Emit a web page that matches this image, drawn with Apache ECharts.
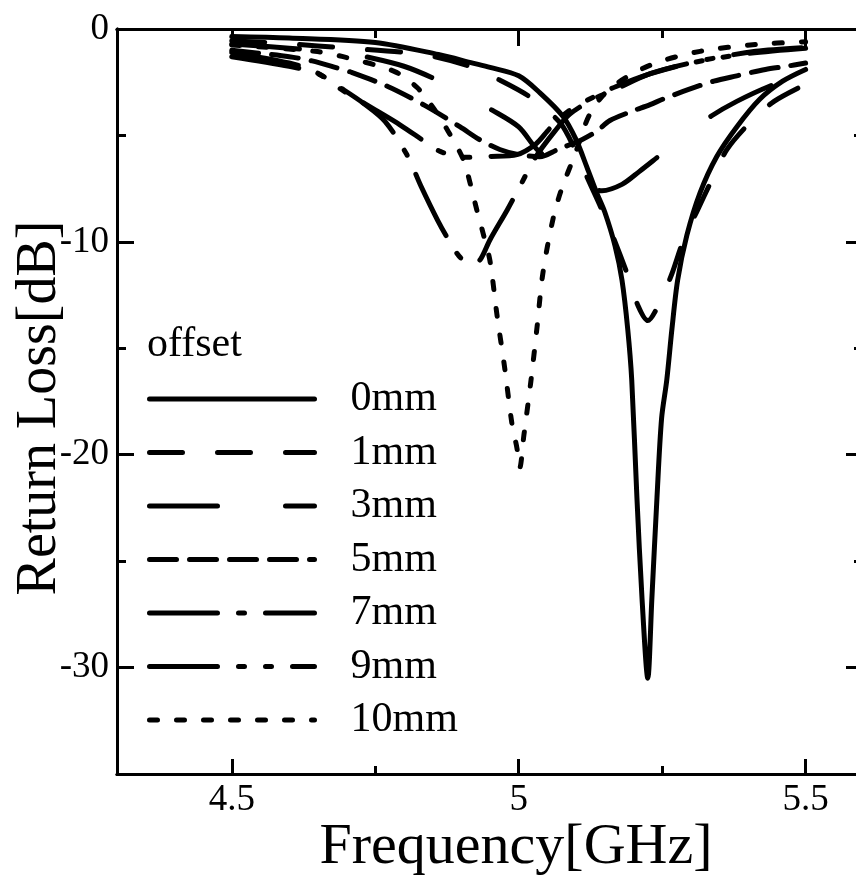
<!DOCTYPE html>
<html>
<head>
<meta charset="utf-8">
<script src="https://cdn.jsdelivr.net/npm/echarts@6/dist/echarts.min.js"></script>
<style>
html,body{margin:0;padding:0;background:#fff;}
#chart{width:856px;height:877px;}
</style>
</head>
<body>
<div id="chart"></div>
<script>
// ---- data: [frequency GHz, return loss dB] ----
const seriesNames = ['0mm', '1mm', '3mm', '5mm', '7mm', '9mm', '10mm'];

const rl0mm = [[4.5,-0.35],[4.6,-0.42],[4.75,-0.63],[4.86,-1.2],[4.92,-1.6],[4.95,-1.8],[5.0,-2.2],[5.037,-3.0],[5.077,-4.1],[5.1,-5.2],[5.119,-6.5],[5.136,-7.7],[5.15,-8.6],[5.168,-10.2],[5.18,-11.8],[5.19,-14.1],[5.197,-16.5],[5.206,-22.0],[5.215,-26.8],[5.225,-30.5],[5.232,-26.8],[5.241,-22.0],[5.249,-18.3],[5.258,-16.5],[5.267,-14.1],[5.277,-11.8],[5.293,-9.7],[5.316,-7.7],[5.345,-6.0],[5.38,-4.6],[5.42,-3.3],[5.46,-2.45],[5.5,-1.9]];

const rl1mm = [[4.5,-0.55],[4.6,-0.7],[4.7,-0.9],[4.8,-1.1],[4.854,-1.3],[4.915,-1.76],[4.967,-2.4],[5.02,-3.2],[5.072,-4.4],[5.098,-5.66],[5.121,-7.07],[5.145,-8.5],[5.168,-10.0],[5.189,-11.5],[5.208,-13.0],[5.225,-13.7],[5.243,-13.0],[5.267,-11.5],[5.286,-10.0],[5.31,-8.6],[5.337,-7.07],[5.363,-5.66],[5.403,-4.4],[5.445,-3.4],[5.5,-2.6]];

const rl3mm = [[4.5,-0.7],[4.6,-0.9],[4.7,-1.15],[4.74,-1.34],[4.8,-1.75],[4.85,-2.3],[4.9,-3.0],[4.953,-3.8],[5.0,-4.6],[5.032,-5.66],[5.08,-6.7],[5.11,-7.2],[5.145,-7.6],[5.18,-7.3],[5.21,-6.7],[5.243,-6.0],[5.29,-5.0],[5.335,-4.1],[5.38,-3.4],[5.436,-2.7],[5.5,-2.1]];

const rl5mm = [[4.5,-1.0],[4.6,-1.3],[4.64,-1.5],[4.68,-1.8],[4.709,-2.04],[4.772,-2.7],[4.837,-3.6],[4.898,-4.6],[4.932,-5.2],[4.967,-5.66],[5.0,-5.9],[5.037,-6.0],[5.068,-5.66],[5.11,-5.2],[5.136,-4.8],[5.159,-4.3],[5.194,-3.9],[5.229,-3.55],[5.251,-3.3],[5.295,-2.85],[5.34,-2.45],[5.38,-2.2],[5.43,-1.9],[5.465,-1.76],[5.5,-1.6]];

const rl7mm = [[4.5,-1.3],[4.6,-1.75],[4.65,-2.1],[4.694,-2.84],[4.73,-3.5],[4.767,-4.34],[4.805,-5.9],[4.83,-7.4],[4.859,-9.0],[4.88,-10.0],[4.901,-10.8],[4.927,-10.96],[4.936,-10.7],[4.95,-9.9],[4.98,-8.5],[5.0,-7.5],[5.03,-6.0],[5.063,-4.8],[5.089,-4.0],[5.13,-3.3],[5.164,-2.9],[5.229,-2.1],[5.316,-1.5],[5.413,-1.05],[5.5,-0.87]];

const rl9mm = [[4.5,-1.1],[4.6,-1.6],[4.645,-2.0],[4.694,-2.9],[4.75,-3.8],[4.793,-4.5],[4.837,-5.3],[4.863,-5.75],[4.903,-6.03],[4.95,-5.99],[4.997,-5.9],[5.03,-5.4],[5.05,-4.8],[5.063,-4.4],[5.09,-3.8],[5.13,-3.2],[5.17,-2.7],[5.23,-2.1],[5.3,-1.6],[5.4,-1.15],[5.5,-0.9]];

const rl10mm = [[4.5,-0.75],[4.645,-1.05],[4.694,-1.3],[4.784,-2.0],[4.823,-2.75],[4.851,-3.7],[4.877,-4.8],[4.903,-6.1],[4.915,-7.2],[4.927,-8.5],[4.938,-9.6],[4.95,-10.9],[4.962,-13.4],[4.976,-16.0],[4.988,-18.5],[4.997,-19.7],[5.002,-20.6],[5.009,-19.1],[5.021,-16.6],[5.032,-14.0],[5.042,-11.5],[5.06,-8.9],[5.075,-7.5],[5.098,-5.9],[5.124,-4.0],[5.159,-2.8],[5.229,-1.7],[5.316,-1.05],[5.413,-0.73],[5.5,-0.6]];

const xMajorTicks = [4.5, 5, 5.5];
const xMinorTicks = [4.75, 5.25];
const yMajorTicks = [0, -10, -20, -30];
const yMinorTicks = [-5, -15, -25];

const allData = [rl0mm, rl1mm, rl3mm, rl5mm, rl7mm, rl9mm, rl10mm];
const dashes = ['solid', [33, 35], [68, 68], [27, 13], [68, 21, 6, 21], [68, 21, 6, 21, 6, 21], [8, 19]];

const FONT = 'Liberation Serif';
const chart = echarts.init(document.getElementById('chart'), null, {renderer: 'canvas'});

const axLine = {show: true, onZero: false, lineStyle: {color: '#000', width: 3}};
function xAx(pos, ticks, len, labels) {
  return {
    type: 'value', min: 4.3, max: 5.6, position: pos,
    axisLine: axLine,
    axisTick: {show: true, inside: true, length: len, customValues: ticks, lineStyle: {color: '#000', width: 3}},
    axisLabel: labels ? {show: true, customValues: ticks, margin: 8, color: '#000', fontFamily: FONT, fontSize: 37, formatter: v => String(v)} : {show: false},
    splitLine: {show: false}
  };
}
function yAx(pos, ticks, len, labels) {
  return {
    type: 'value', min: -35, max: 0, position: pos,
    axisLine: axLine,
    axisTick: {show: true, inside: true, length: len, customValues: ticks, lineStyle: {color: '#000', width: 3}},
    axisLabel: labels ? {show: true, customValues: ticks, margin: 8, color: '#000', fontFamily: FONT, fontSize: 37, formatter: v => String(v)} : {show: false},
    splitLine: {show: false}
  };
}

const option = {
  backgroundColor: '#fff',
  animation: false,
  grid: {left: 117, right: -7, top: 29, bottom: 103, containLabel: false, outerBoundsMode: 'none'},
  title: {text: 'offset', left: 147, top: 324, padding: 0, textStyle: {fontFamily: FONT, fontSize: 42, fontWeight: 'normal', color: '#000'}},
  legend: {
    orient: 'vertical', left: 147, top: 378, padding: 0,
    itemWidth: 165, itemHeight: 12, itemGap: 11.5,
    selectedMode: false,
    data: seriesNames,
    itemStyle: {opacity: 0, borderWidth: 0},
    lineStyle: {width: 5, cap: 'round'},
    textStyle: {fontFamily: FONT, fontSize: 42, color: '#000', padding: [0, 0, 0, 31]}
  },
  xAxis: [
    xAx('bottom', xMajorTicks, 15, true),
    xAx('bottom', xMinorTicks, 8, false),
    xAx('top', xMajorTicks, 17, false),
    xAx('top', xMinorTicks, 9, false)
  ],
  yAxis: [
    yAx('left', yMajorTicks, 17, true),
    yAx('left', yMinorTicks, 9, false),
    yAx('right', yMajorTicks, 17, false),
    yAx('right', yMinorTicks, 9, false)
  ],
  graphic: [
    {type: 'text', x: 516, y: 848, style: {text: 'Frequency[GHz]', x: 0, y: 0, align: 'center', verticalAlign: 'middle', font: '58px "Liberation Serif"', fill: '#000'}},
    {type: 'text', x: 40, y: 408, rotation: Math.PI / 2, style: {text: 'Return Loss[dB]', x: 0, y: 0, align: 'center', verticalAlign: 'middle', font: '56px "Liberation Serif"', fill: '#000'}}
  ],
  series: seriesNames.map((n, i) => ({
    name: n,
    type: 'line',
    xAxisIndex: 0, yAxisIndex: 0,
    data: allData[i],
    symbol: 'none',
    smooth: 0.3,
    clip: true,
    lineStyle: {color: '#000', width: 5, type: dashes[i], cap: 'round', join: 'round'},
    itemStyle: {color: '#000'}
  }))
};
chart.setOption(option);
</script>
</body>
</html>
